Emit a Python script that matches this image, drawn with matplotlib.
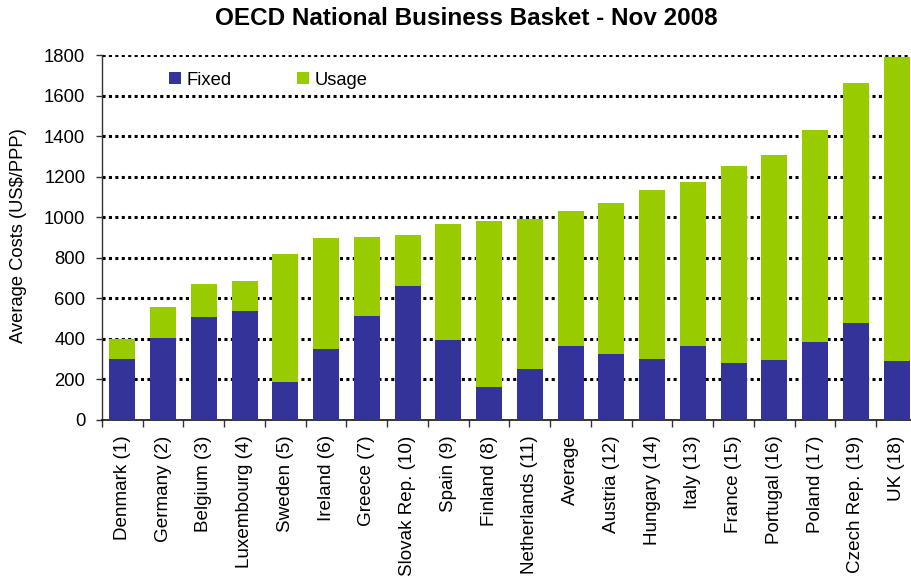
import matplotlib
matplotlib.use("Agg")
import matplotlib.pyplot as plt
import numpy as np

categories = ["Denmark (1)", "Germany (2)", "Belgium (3)", "Luxembourg (4)", "Sweden (5)",
              "Ireland (6)", "Greece (7)", "Slovak Rep. (10)", "Spain (9)", "Finland (8)",
              "Netherlands (11)", "Average", "Austria (12)", "Hungary (14)", "Italy (13)",
              "France (15)", "Portugal (16)", "Poland (17)", "Czech Rep. (19)", "UK (18)"]
fixed = [301, 404, 508, 537, 187, 350, 513, 660, 394, 163,
         251, 365, 325, 301, 365, 281, 296, 384, 478, 291]
total = [399, 557, 670, 685, 818, 897, 902, 912, 966, 981,
         991, 1030, 1070, 1134, 1173, 1252, 1306, 1429, 1661, 1789]
usage = [t - f for t, f in zip(total, fixed)]
yticks = [0, 200, 400, 600, 800, 1000, 1200, 1400, 1600, 1800]

plt.rcParams['font.family'] = ['Liberation Sans', 'DejaVu Sans']

fig = plt.figure(figsize=(9.12, 5.8), dpi=100)
ax = fig.add_axes([102/912, 1-420/580, (917-102)/912, (420-55)/580])

x = np.arange(len(categories))
ax.bar(x, fixed, width=0.64, color="#333399", label="Fixed", zorder=3)
ax.bar(x, usage, bottom=fixed, width=0.64, color="#99CC00", label="Usage", zorder=3)

for v in yticks[1:]:
    ax.axhline(v, color="black", lw=2.2, ls=(0, (1, 1.1)), zorder=1)

ax.set_xlim(-0.5, len(categories) - 0.5)
ax.set_ylim(0, 1800)
ax.set_yticks(yticks)
ax.set_yticklabels([str(v) for v in yticks], fontsize=13.3)
ax.set_xticks(x)
ax.set_xticklabels(categories, rotation=90, fontsize=13.6, va="top", ha="center")
ax.set_xticks(np.arange(-0.5, len(categories)), minor=True)
ax.tick_params(axis="x", which="major", length=0, pad=11)
ax.tick_params(axis="x", which="minor", length=5, width=1, color="#333333", direction="out")
ax.tick_params(axis="y", length=4, width=1, color="#333333", direction="out", pad=8)

for s in ["top", "right"]:
    ax.spines[s].set_visible(False)
ax.spines["left"].set_color("#333333")
ax.spines["bottom"].set_color("#111111")
ax.spines["left"].set_linewidth(1)
ax.spines["bottom"].set_linewidth(1.2)

ax.set_ylabel("Average Costs (US$/PPP)", fontsize=13.2, va="center", ha="center")
ax.yaxis.set_label_coords((18-102)/815, (420-236)/365)

fig.text(466/912, 1-18.5/580, "OECD National Business Basket - Nov 2008", ha="center", va="center",
         fontsize=17.5, fontweight="bold")

leg = ax.legend(loc="center left", bbox_to_anchor=(169/912, 1-80/580), bbox_transform=fig.transFigure,
                ncol=2, frameon=False, fontsize=13.2, handlelength=0.66, handleheight=0.66,
                handletextpad=0.27, columnspacing=3.6, borderaxespad=0, borderpad=0)

fig.savefig("out.png", dpi=100)
